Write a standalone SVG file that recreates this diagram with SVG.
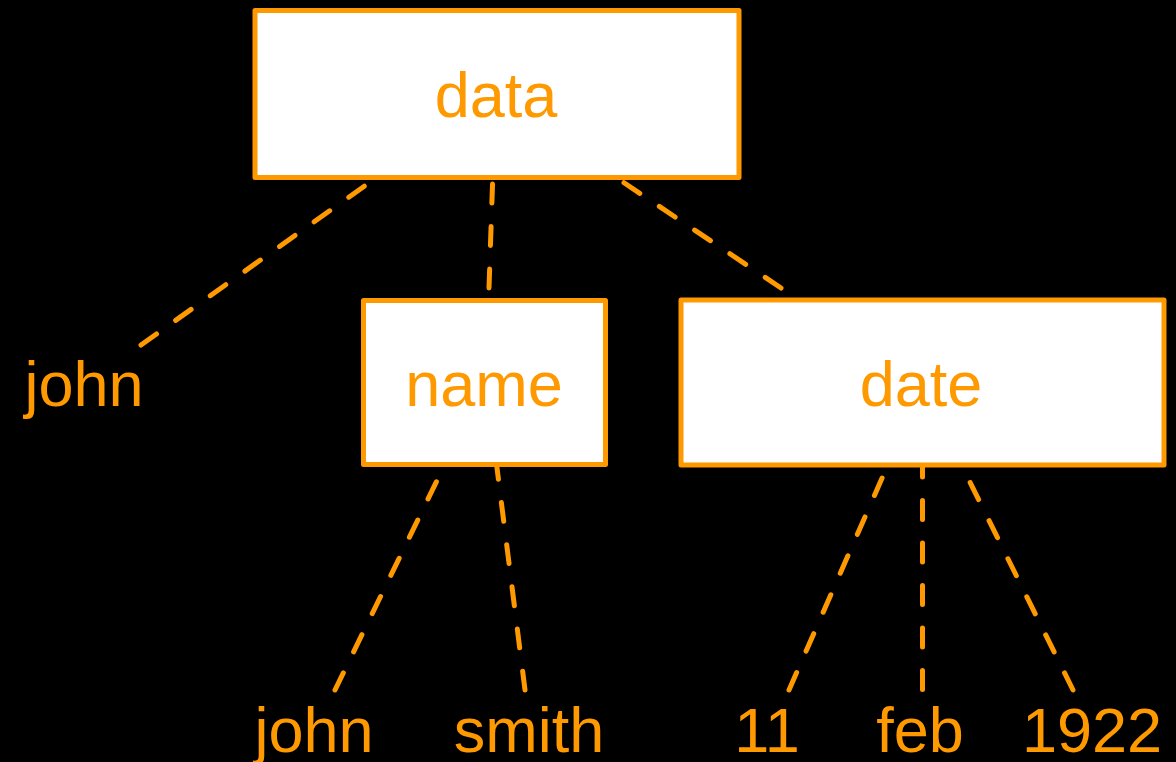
<svg xmlns="http://www.w3.org/2000/svg" width="1176" height="762" viewBox="0 0 1176 762">
<style>
.box{fill:#ffffff;stroke:#ff9900;stroke-width:5;stroke-linejoin:round}
.lbl{font-family:"Liberation Sans",Arial,sans-serif;font-size:63px;fill:#ff9900;text-anchor:middle}
.con{fill:none;stroke:#ff9900;stroke-width:5;stroke-linecap:round;stroke-dasharray:19 23.5}
</style>
<rect x="0" y="0" width="1176" height="762" fill="#000000"/>
<g id="connectors">
<line class="con" x1="141" y1="345" x2="387" y2="170"/>
<line class="con" x1="489" y1="288" x2="493" y2="170"/>
<line class="con" x1="781" y1="288" x2="605" y2="170"/>
<line class="con" x1="335" y1="690" x2="447" y2="460"/>
<line class="con" x1="525" y1="690" x2="496" y2="460"/>
<line class="con" x1="789" y1="690" x2="890" y2="460"/>
<line class="con" x1="922.5" y1="689.5" x2="922.5" y2="460"/>
<line class="con" x1="1073" y1="690" x2="959" y2="460"/>
</g>
<g id="node-data">
<rect class="box" x="255" y="10.5" width="484" height="167"/>
<text class="lbl" x="496" y="117">data</text>
</g>
<g id="node-name">
<rect class="box" x="363.5" y="300.5" width="242" height="164"/>
<text class="lbl" x="484" y="406">name</text>
</g>
<g id="node-date">
<rect class="box" x="681" y="300" width="483" height="165"/>
<text class="lbl" x="921" y="406">date</text>
</g>
<g id="leaf-john1">
<text class="lbl" x="84" y="406">john</text>
</g>
<g id="leaf-john2">
<text class="lbl" x="314" y="752">john</text>
</g>
<g id="leaf-smith">
<text class="lbl" x="529" y="752">smith</text>
</g>
<g id="leaf-11">
<text class="lbl" x="767" y="752">11</text>
</g>
<g id="leaf-feb">
<text class="lbl" x="920" y="752">feb</text>
</g>
<g id="leaf-1922">
<text class="lbl" x="1092" y="752">1922</text>
</g>
</svg>
